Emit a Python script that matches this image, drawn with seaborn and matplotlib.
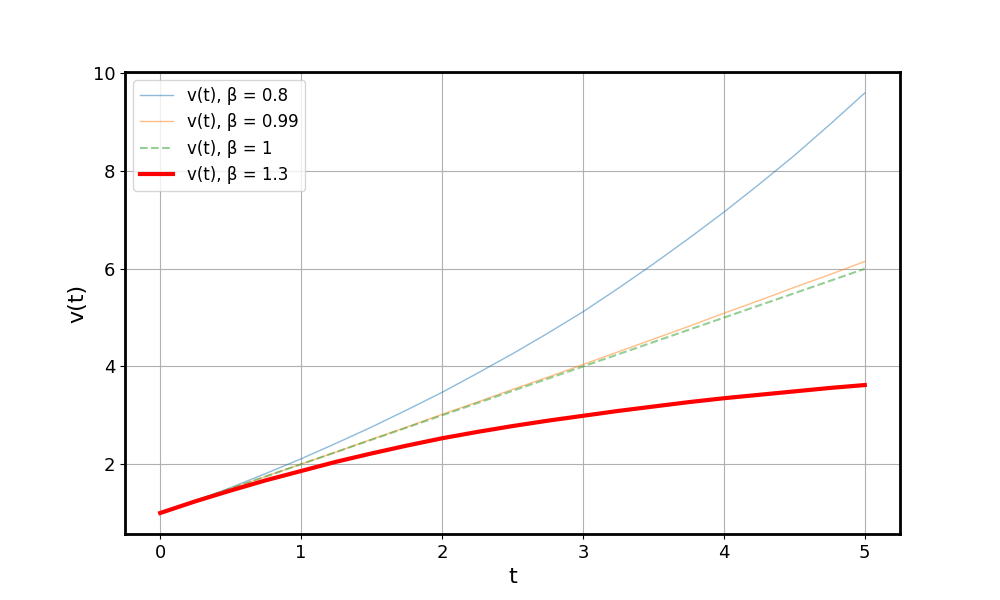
import matplotlib
matplotlib.use("Agg")
import matplotlib.pyplot as plt
import seaborn as sns

# valores (paso 0.25)
t = [0, 0.25, 0.5, 0.75, 1, 1.25, 1.5, 1.75, 2, 2.25, 2.5,
     2.75, 3, 3.25, 3.5, 3.75, 4, 4.25, 4.5, 4.75, 5]
v_b08 = [1.00, 1.25, 1.52, 1.81, 2.11, 2.43, 2.76, 3.11, 3.47, 3.86, 4.26,
         4.68, 5.12, 5.60, 6.10, 6.62, 7.16, 7.73, 8.32, 8.95, 9.60]
v_b099 = [1.00, 1.25, 1.50, 1.75, 2.00, 2.25, 2.51, 2.76, 3.02, 3.27, 3.53,
          3.78, 4.04, 4.30, 4.56, 4.82, 5.09, 5.35, 5.62, 5.88, 6.15]
v_b1 = [1.00, 1.25, 1.50, 1.75, 2.00, 2.25, 2.50, 2.75, 3.00, 3.25, 3.50,
        3.75, 4.00, 4.25, 4.50, 4.75, 5.00, 5.25, 5.50, 5.75, 6.00]
v_b13 = [1.00, 1.24, 1.46, 1.67, 1.86, 2.05, 2.22, 2.38, 2.53, 2.66, 2.78,
         2.89, 2.99, 3.09, 3.18, 3.27, 3.35, 3.42, 3.49, 3.56, 3.62]

fig, ax = plt.subplots(figsize=(10, 6), dpi=100)

sns.lineplot(x=t, y=v_b08, ax=ax, color="tab:blue", alpha=0.5, lw=1, label="v(t), β = 0.8")
sns.lineplot(x=t, y=v_b099, ax=ax, color="tab:orange", alpha=0.5, lw=1, label="v(t), β = 0.99")
sns.lineplot(x=t, y=v_b1, ax=ax, color="tab:green", alpha=0.5, lw=1.5, linestyle="--", label="v(t), β = 1")
sns.lineplot(x=t, y=v_b13, ax=ax, color="red", lw=3, label="v(t), β = 1.3")

ax.grid(True)
ax.set_xlabel("t", fontsize=16)
ax.set_ylabel("v(t)", fontsize=16)
ax.tick_params(labelsize=13)
for s in ax.spines.values():
    s.set_linewidth(2)
ax.legend(loc="upper left", fontsize=12)

plt.savefig("out.png")
